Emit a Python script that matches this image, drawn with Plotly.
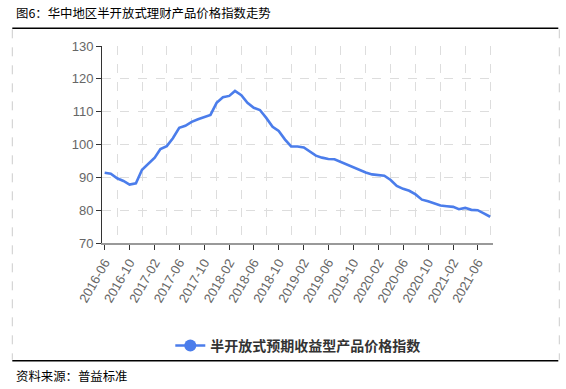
import plotly.graph_objects as go
import pandas as pd

months = pd.date_range("2016-06-01", "2021-08-01", freq="MS").strftime("%Y-%m-%d").tolist()
index_values = [
    91.4, 91.1, 89.7, 88.9, 87.8, 88.2, 92.3, 94.3, 96.0, 98.6,
    99.5, 101.9, 105.1, 105.7, 106.9, 107.7, 108.3, 109.0, 112.7, 114.4,
    114.8, 116.3, 115.0, 112.7, 111.2, 110.5, 108.1, 105.4, 104.1, 101.5,
    99.4, 99.4, 99.1, 97.8, 96.6, 96.0, 95.6, 95.5, 94.7, 93.8,
    93.0, 92.1, 91.5, 90.9, 90.8, 90.5, 89.2, 87.4, 86.5, 85.9,
    84.8, 83.2, 82.7, 82.0, 81.4, 81.2, 81.0, 80.3, 80.7, 80.1,
    80.0, 79.0, 78.0,
]
series_name = "半开放式预期收益型产品价格指数"
title_text = "图6：华中地区半开放式理财产品价格指数走势"
source_text = "资料来源：普益标准"
tick_months = months[::4]
tick_labels = [m[:7] for m in tick_months]
grid_months = months[2::4]

W, H = 566, 389
L, R, T, B = 101.7, 492.7, 45.7, 243.0
pw, ph = R - L, B - T

def px(x):
    return (x - L) / pw

def py(y):
    return (B - y) / ph

color = "#4B7DEB"
fig = go.Figure()
fig.add_trace(go.Scatter(x=months, y=index_values, mode="lines",
                         line=dict(color=color, width=2.6), showlegend=False))
fig.add_trace(go.Scatter(x=[None], y=[None], mode="lines+markers", name=series_name,
                         line=dict(color=color, width=2.6),
                         marker=dict(color=color, size=12)))

fig.update_layout(
    width=W, height=H,
    margin=dict(l=L, r=W - R, t=T, b=H - B, autoexpand=False),
    paper_bgcolor="white", plot_bgcolor="white",
    font=dict(family="Liberation Sans, Arial, sans-serif", size=13, color="#666"),
    legend=dict(orientation="h", x=px(170), xanchor="left", y=py(346), yanchor="middle",
                bgcolor="rgba(0,0,0,0)",
                font=dict(family="Noto Sans CJK SC", size=14, color="#333", weight="bold"),
                itemwidth=30),
    xaxis=dict(type="date", range=["2016-05-19", "2021-08-15"], automargin=False,
               tickvals=tick_months, ticktext=tick_labels, tickangle=-60,
               showgrid=False, ticks="outside", ticklen=5, tickcolor="#333",
               showline=True, linecolor="#999", linewidth=2,
               tickfont=dict(size=13, color="#666"),
               minor=dict(tickvals=grid_months, showgrid=True, griddash="dash",
                          gridcolor="#ddd", gridwidth=1, ticks="")),
    yaxis=dict(range=[70, 130], dtick=10, showgrid=True, griddash="dash", automargin=False,
               gridcolor="#ddd", zeroline=False, showline=True, linecolor="#333",
               linewidth=1, ticks="outside", ticklen=5, tickcolor="#333",
               tickfont=dict(size=13, color="#666")),
)

shapes = [
    dict(type="line", xref="paper", yref="paper", x0=px(12), x1=px(558), y0=py(28), y1=py(28),
         line=dict(color="black", width=1.5)),
    dict(type="line", xref="paper", yref="paper", x0=px(12), x1=px(558), y0=py(361), y1=py(361),
         line=dict(color="black", width=1.5)),
    dict(type="line", xref="paper", yref="paper", x0=px(12), x1=px(12), y0=py(29), y1=py(360),
         line=dict(color="#ccc", width=1, dash="dash")),
    dict(type="line", xref="paper", yref="paper", x0=px(559), x1=px(559), y0=py(29), y1=py(360),
         line=dict(color="#ccc", width=1, dash="dash")),
]
fig.update_layout(shapes=shapes)

fig.add_annotation(text=title_text, xref="paper", yref="paper", x=px(14), y=py(13),
                   xanchor="left", yanchor="middle", showarrow=False,
                   font=dict(family="Noto Sans CJK SC", size=12.4, color="black"))
fig.add_annotation(text=source_text, xref="paper", yref="paper", x=px(14), y=py(376),
                   xanchor="left", yanchor="middle", showarrow=False,
                   font=dict(family="Noto Sans CJK SC", size=12.4, color="black"))

fig.write_html("out.html", config={"displayModeBar": False},
               post_script="document.body.style.margin='0px';document.body.style.overflow='hidden';")
